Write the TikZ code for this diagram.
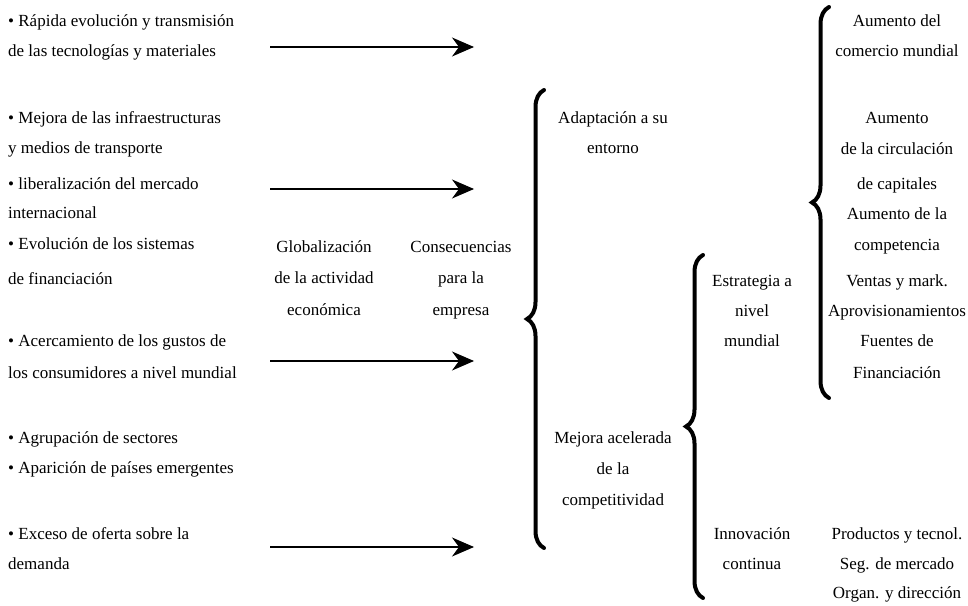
\documentclass[tikz,border=0pt]{standalone}
\usepackage{fontspec}
\setmainfont{Liberation Serif}
\usetikzlibrary{arrows.meta,decorations.pathreplacing}
\begin{document}
\begin{tikzpicture}[x=1pt,y=-1pt,
  txt/.style={inner sep=0pt,font=\fontsize{17}{20}\selectfont},
  lft/.style={txt,anchor=base west},
  ctr/.style={txt,anchor=base},
  arr/.style={line width=1.1pt,-{Stealth[length=22pt,width=19pt,inset=7pt]}},
  bigbrace/.style={decorate,decoration={brace,amplitude=17pt,aspect=0.5},line width=4pt,line cap=round}]
\useasboundingbox (0,0) rectangle (968,605);
% left column
\node[lft] (l1) at (8,26) {• Rápida evolución y transmisión};
\node[lft] (l2) at (8,56) {de las tecnologías y materiales};
\node[lft] (l3) at (8,123) {• Mejora de las infraestructuras};
\node[lft] (l4) at (8,153) {y medios de transporte};
\node[lft] (l5) at (8,189) {• liberalización del mercado};
\node[lft] (l6) at (8,218) {internacional};
\node[lft] (l7) at (8,249) {• Evolución de los sistemas};
\node[lft] (l8) at (8,284) {de financiación};
\node[lft] (l9) at (8,346) {• Acercamiento de los gustos de};
\node[lft] (l10) at (8,378) {los consumidores a nivel mundial};
\node[lft] (l11) at (8,443) {• Agrupación de sectores};
\node[lft] (l12) at (8,473) {• Aparición de países emergentes};
\node[lft] (l13) at (8,539) {• Exceso de oferta sobre la};
\node[lft] (l14) at (8,569) {demanda};
% arrows
\coordinate (a1s) at (270,47);  \coordinate (a1e) at (474,47);
\coordinate (a2s) at (270,189); \coordinate (a2e) at (474,189);
\coordinate (a3s) at (270,361); \coordinate (a3e) at (474,361);
\coordinate (a4s) at (270,547); \coordinate (a4e) at (474,547);
\draw[arr] (a1s) -- (a1e);
\draw[arr] (a2s) -- (a2e);
\draw[arr] (a3s) -- (a3e);
\draw[arr] (a4s) -- (a4e);
% middle
\node[ctr] (g1) at (324,252) {Globalización};
\node[ctr] (g2) at (324,283) {de la actividad};
\node[ctr] (g3) at (324,315) {económica};
\node[ctr] (c1) at (461,252) {Consecuencias};
\node[ctr] (c2) at (461,283) {para la};
\node[ctr] (c3) at (461,315) {empresa};
% brace 1
\coordinate (b1t) at (544,90); \coordinate (b1b) at (544,548);
\draw[bigbrace] (b1b) -- (b1t);
\node[ctr] (ad1) at (613,123) {Adaptación a su};
\node[ctr] (ad2) at (613,153) {entorno};
\node[ctr] (m1) at (613,443) {Mejora acelerada};
\node[ctr] (m2) at (613,474) {de la};
\node[ctr] (m3) at (613,505) {competitividad};
% brace 2
\coordinate (b2t) at (703,255); \coordinate (b2b) at (703,598);
\draw[bigbrace] (b2b) -- (b2t);
\node[ctr] (e1) at (752,286) {Estrategia a};
\node[ctr] (e2) at (752,316) {nivel};
\node[ctr] (e3) at (752,346) {mundial};
\node[ctr] (i1) at (752,539) {Innovación};
\node[ctr] (i2) at (752,569) {continua};
% brace 3
\coordinate (b3t) at (829,7); \coordinate (b3b) at (829,398);
\draw[bigbrace] (b3b) -- (b3t);
\node[ctr] (r1) at (897,26) {Aumento del};
\node[ctr] (r2) at (897,56) {comercio mundial};
\node[ctr] (r3) at (897,123) {Aumento};
\node[ctr] (r4) at (897,154) {de la circulación};
\node[ctr] (r5) at (897,189) {de capitales};
\node[ctr] (r6) at (897,219) {Aumento de la};
\node[ctr] (r7) at (897,250) {competencia};
\node[ctr] (r8) at (897,286) {Ventas y mark.};
\node[ctr] (r9) at (897,316) {Aprovisionamientos};
\node[ctr] (r10) at (897,346) {Fuentes de};
\node[ctr] (r11) at (897,378) {Financiación};
\node[ctr] (p1) at (897,539) {Productos y tecnol.};
\node[ctr] (p2) at (897,569) {Seg. de mercado};
\node[ctr] (p3) at (897,598) {Organ. y dirección};
\end{tikzpicture}
\end{document}
